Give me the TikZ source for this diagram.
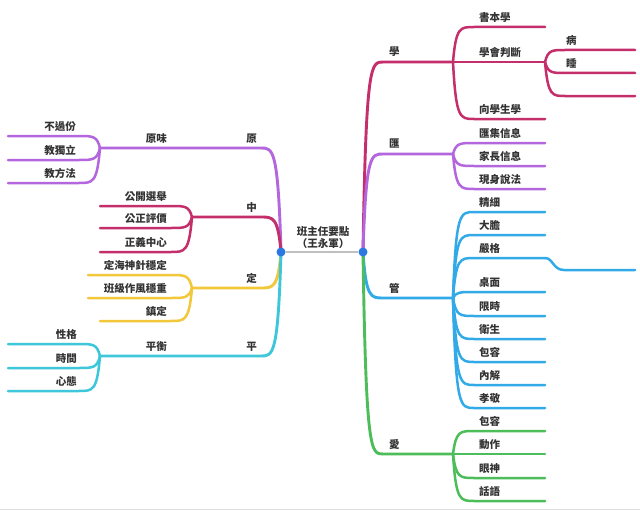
\documentclass[tikz,border=0pt]{standalone}
\usepackage{fontspec}
\setmainfont{Noto Sans CJK TC}
\definecolor{cPur}{HTML}{B366DD}
\definecolor{cRed}{HTML}{C42F6B}
\definecolor{cYel}{HTML}{F2C73A}
\definecolor{cCya}{HTML}{3EC7DA}
\definecolor{cBlu}{HTML}{33AAE8}
\definecolor{cGrn}{HTML}{4DBD5A}
\definecolor{cDot}{HTML}{2B79E0}
\definecolor{cTxt}{HTML}{333333}
\tikzset{
  lbl/.style={font=\fontsize{10.5}{12}\selectfont\bfseries, text=cTxt, inner sep=0pt},
  br/.style={line width=2.9pt, line cap=round},
  sb/.style={line width=2.5pt, line cap=round},
  dotnode/.style={circle, fill=cDot, minimum size=9pt, inner sep=0pt}
}
% right sub-branch: #1 split name, #2 split x, #3 y, #4 colour, #5 name, #6 text
\newcommand\Rsub[6]{%
  \coordinate (#5e) at (545,#3);
  \draw[sb,#4] (#1) .. controls ({#2+3},#3) and ({#2+7},#3) .. ({#2+21},#3) -- (#5e);
  \node[lbl,anchor=west] (#5) at (479,#3-9.5) {#6};}
% left sub-branch: #1 split name, #2 split x, #3 y, #4 colour, #5 name, #6 text, #7 left end x, #8 label right x
\newcommand\Lsub[8]{%
  \coordinate (#5e) at (#7,#3);
  \draw[sb,#4] (#1) .. controls ({#2-3},#3) and ({#2-7},#3) .. ({#2-21},#3) -- (#5e);
  \node[lbl,anchor=east] (#5) at (#8,#3-9.5) {#6};}
\begin{document}
\begin{tikzpicture}[x=1pt,y=-1pt]
\useasboundingbox (0,0) rectangle (640,511);
\fill[white] (0,0) rectangle (640,511);
\draw[line width=1.2pt, black!12] (0,509.5) -- (640,509.5);

\coordinate (dL) at (281,252);
\coordinate (dR) at (363,252);

% ---------- left side ----------
% 原
\coordinate (sYuan) at (100,148);
\draw[br,cPur] (dL) .. controls (278,148) and (273,148) .. (261,148) -- (sYuan);
\node[lbl,anchor=east] (yuan) at (257,138.5) {原};
\node[lbl,anchor=east] (yuanwei) at (167,138.5) {原味};
\Lsub{sYuan}{100}{136}{cPur}{y1}{不過份}{8}{76}
\Lsub{sYuan}{100}{160}{cPur}{y2}{教獨立}{8}{76}
\Lsub{sYuan}{100}{183}{cPur}{y3}{教方法}{8}{76}
% 中
\coordinate (sZhong) at (192,217);
\draw[br,cRed] (dL) .. controls (278,217) and (273,217) .. (261,217) -- (sZhong);
\node[lbl,anchor=east] (zhong) at (257,207.5) {中};
\Lsub{sZhong}{192}{206}{cRed}{z1}{公開選舉}{100}{167}
\Lsub{sZhong}{192}{228}{cRed}{z2}{公正評價}{100}{167}
\Lsub{sZhong}{192}{252}{cRed}{z3}{正義中心}{100}{167}
% 定
\coordinate (sDing) at (192,288);
\draw[br,cYel] (dL) .. controls (278,288) and (273,288) .. (261,288) -- (sDing);
\node[lbl,anchor=east] (ding) at (257,278) {定};
\Lsub{sDing}{192}{275}{cYel}{d1}{定海神針穩定}{88}{167}
\Lsub{sDing}{192}{298}{cYel}{d2}{班級作風穩重}{88}{167}
\Lsub{sDing}{192}{321}{cYel}{d3}{鎮定}{100}{167}
% 平
\coordinate (sPing) at (100,356);
\draw[br,cCya] (dL) .. controls (278,356) and (273,356) .. (261,356) -- (sPing);
\node[lbl,anchor=east] (ping) at (257,346.5) {平};
\node[lbl,anchor=east] (pingheng) at (167,346.5) {平衡};
\Lsub{sPing}{100}{344}{cCya}{p1}{性格}{8}{77}
\Lsub{sPing}{100}{368}{cCya}{p2}{時間}{8}{77}
\Lsub{sPing}{100}{391}{cCya}{p3}{心態}{8}{77}

% ---------- right side ----------
% 學
\coordinate (sXue) at (453,62);
\draw[br,cRed] (dR) .. controls (366,62) and (371,62) .. (383,62) -- (sXue);
\node[lbl,anchor=west] (xue) at (389,52) {學};
\Rsub{sXue}{453}{27}{cRed}{x1}{書本學}
\Rsub{sXue}{453}{62}{cRed}{x2}{學會判斷}
\Rsub{sXue}{453}{119}{cRed}{x3}{向學生學}
\foreach \yy/\nm/\tx in {50/xx1/病, 73/xx2/睡, 96/xx3/{}}{
  \coordinate (\nm e) at (635,\yy);
  \draw[sb,cRed] (x2e) .. controls (548,\yy) and (552,\yy) .. (565,\yy) -- (\nm e);
  \node[lbl,anchor=west] (\nm) at (566,\yy-9.5) {\tx};
}
% 匯
\coordinate (sHui) at (453,154);
\draw[br,cPur] (dR) .. controls (366,154) and (371,154) .. (383,154) -- (sHui);
\node[lbl,anchor=west] (hui) at (389,143.5) {匯};
\Rsub{sHui}{453}{143}{cPur}{h1}{匯集信息}
\Rsub{sHui}{453}{166}{cPur}{h2}{家長信息}
\Rsub{sHui}{453}{189}{cPur}{h3}{現身說法}
% 管
\coordinate (sGuan) at (453,298);
\draw[br,cBlu] (dR) .. controls (366,298) and (371,298) .. (383,298) -- (sGuan);
\node[lbl,anchor=west] (guan) at (389,288) {管};
\Rsub{sGuan}{453}{212}{cBlu}{g1}{精細}
\Rsub{sGuan}{453}{235}{cBlu}{g2}{大膽}
\Rsub{sGuan}{453}{258}{cBlu}{g3}{嚴格}
\coordinate (g3f) at (635,270);
\draw[sb,cBlu] (g3e) .. controls (553,258) and (553,270) .. (564,270) -- (g3f);
\Rsub{sGuan}{453}{292}{cBlu}{g4}{桌面}
\Rsub{sGuan}{453}{316}{cBlu}{g5}{限時}
\Rsub{sGuan}{453}{339}{cBlu}{g6}{衛生}
\Rsub{sGuan}{453}{362}{cBlu}{g7}{包容}
\Rsub{sGuan}{453}{385}{cBlu}{g8}{內解}
\Rsub{sGuan}{453}{408}{cBlu}{g9}{孝敬}
% 愛
\coordinate (sAi) at (453,454);
\draw[br,cGrn] (dR) .. controls (366,454) and (371,454) .. (383,454) -- (sAi);
\node[lbl,anchor=west] (ai) at (389,444.5) {愛};
\Rsub{sAi}{453}{431}{cGrn}{a1}{包容}
\Rsub{sAi}{453}{454}{cGrn}{a2}{動作}
\Rsub{sAi}{453}{478}{cGrn}{a3}{眼神}
\Rsub{sAi}{453}{501}{cGrn}{a4}{話語}

% ---------- centre ----------
\node[dotnode] (dotL) at (dL) {};
\node[dotnode] (dotR) at (dR) {};
\draw[line width=2pt, black!25] (dotL) -- (dotR);
\node[lbl, align=center, font=\fontsize{10.5}{11.5}\selectfont\bfseries] (root) at (323,237.5) {班主任要點\\（王永軍）};
\end{tikzpicture}
\end{document}
